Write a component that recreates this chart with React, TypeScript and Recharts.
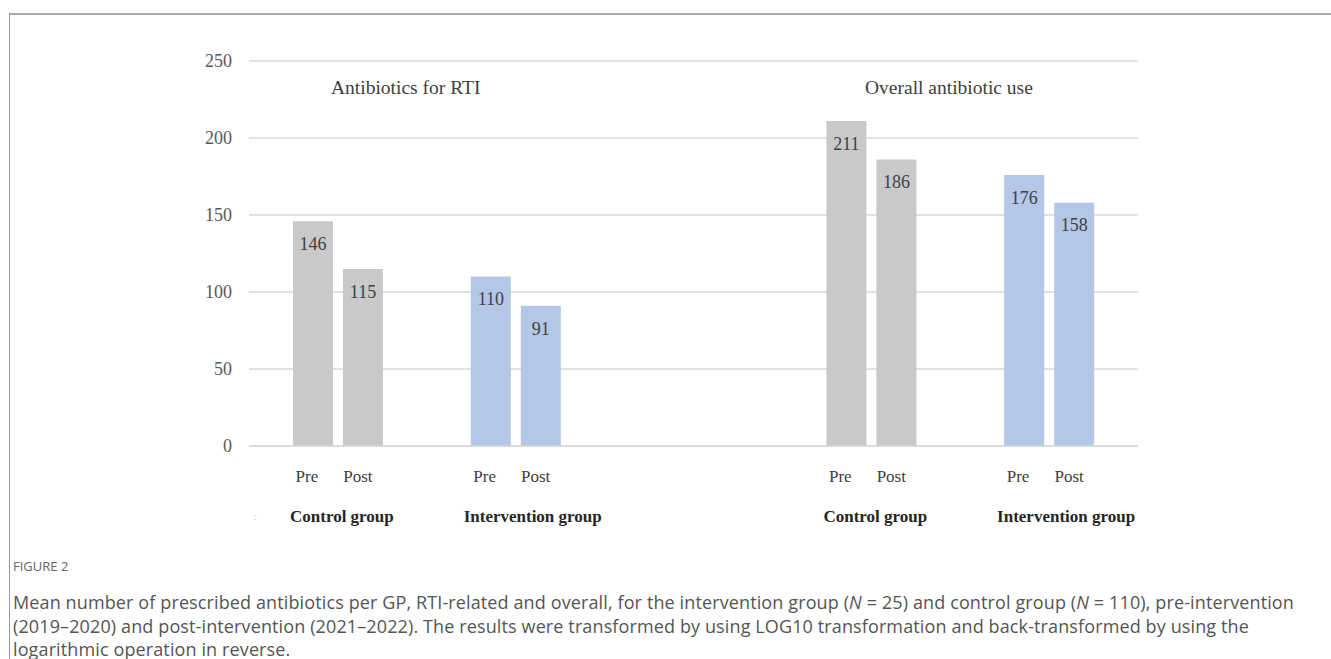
import React from 'react';
import { BarChart, Bar, XAxis, YAxis, CartesianGrid, Cell, LabelList } from 'recharts';

// Category slots: two RTI groups, a spacer, two overall groups
const categoryKeys = ['rtiControl', 'rtiIntervention', 'spacer', 'allControl', 'allIntervention'];
const groupNames = ['Control group', 'Intervention group', '', 'Control group', 'Intervention group'];
const groupKinds = ['control', 'intervention', '', 'control', 'intervention'];
const preValues: (number | null)[] = [146, 110, null, 211, 176];
const postValues: (number | null)[] = [115, 91, null, 186, 158];
const yTicks = [0, 50, 100, 150, 200, 250];
const phaseLabels = ['Pre', 'Post'];
const panelTitles = ['Antibiotics for RTI', 'Overall antibiotic use'];

const captionHead = 'FIGURE 2';

const data = categoryKeys.map((key, i) => ({
  key,
  pre: preValues[i],
  post: postValues[i],
}));

const COLORS: Record<string, string> = {
  control: '#c9c9c9',
  intervention: '#b4c7e7',
};
const SERIF = '"Liberation Serif", "Times New Roman", serif';
const SANS = '"Open Sans", "Noto Sans", sans-serif';
const GRID = '#d9d9d9';

// horizontal nudge of the bold group captions
const groupDx: Record<string, number> = { control: 4, intervention: 17 };

const GroupTick = (props: any) => {
  const { x, y, payload } = props;
  const idx = props.index ?? payload?.index ?? 0;
  const name = groupNames[idx];
  if (!name) return null;
  const kind = groupKinds[idx];
  return (
    <g>
      <text x={x - 31} y={y + 35.5} textAnchor="middle" fontFamily={SERIF} fontSize={17} fill="#404040">
        {phaseLabels[0]}
      </text>
      <text x={x + 20} y={y + 35.5} textAnchor="middle" fontFamily={SERIF} fontSize={17} fill="#404040">
        {phaseLabels[1]}
      </text>
      <text
        x={x + groupDx[kind]}
        y={y + 76}
        textAnchor="middle"
        fontFamily={SERIF}
        fontSize={17}
        fontWeight="bold"
        fill="#262626"
      >
        {name}
      </text>
    </g>
  );
};

const ValueLabel = (props: any) => {
  const { x, y, width, value } = props;
  if (value === null || value === undefined) return null;
  return (
    <text
      x={x + width / 2}
      y={y + 28.7}
      textAnchor="middle"
      fontFamily={SERIF}
      fontSize={18}
      fill="#404040"
    >
      {value}
    </text>
  );
};

export default function App() {
  return (
    <div
      style={{
        position: 'fixed',
        left: 0,
        top: 0,
        width: 1331,
        height: 659,
        background: '#ffffff',
        overflow: 'hidden',
      }}
    >
      {/* figure frame */}
      <div
        style={{
          position: 'absolute',
          left: 9,
          top: 13,
          width: 1400,
          height: 700,
          borderTop: '2px solid #a8a8a8',
          borderLeft: '1px solid #9a9a9a',
        }}
      />
      <div style={{ position: 'absolute', left: 0, top: 0 }}>
        <BarChart
          width={1331}
          height={540}
          data={data}
          margin={{ top: 61, right: 193, bottom: 4, left: 189 }}
          barSize={40}
          barGap={10}
        >
          <CartesianGrid vertical={false} stroke={GRID} strokeWidth={1.5} />
          <XAxis
            dataKey="key"
            height={90}
            axisLine={{ stroke: GRID, strokeWidth: 1.5 }}
            tickLine={false}
            tickSize={0}
            tickMargin={0}
            interval={0}
            tick={<GroupTick />}
          />
          <YAxis
            width={60}
            domain={[0, 250]}
            ticks={yTicks}
            axisLine={false}
            tickLine={false}
            tickSize={0}
            tickMargin={17}
            tick={{ fontFamily: SERIF, fontSize: 18, fill: '#595959' }}
          />
          <Bar dataKey="pre" isAnimationActive={false}>
            {data.map((d, i) => (
              <Cell key={d.key} fill={COLORS[groupKinds[i]] || '#ffffff'} />
            ))}
            <LabelList dataKey="pre" content={<ValueLabel />} />
          </Bar>
          <Bar dataKey="post" isAnimationActive={false}>
            {data.map((d, i) => (
              <Cell key={d.key} fill={COLORS[groupKinds[i]] || '#ffffff'} />
            ))}
            <LabelList dataKey="post" content={<ValueLabel />} />
          </Bar>
        </BarChart>
      </div>
      {/* panel titles and stray mark */}
      <svg
        width={1331}
        height={540}
        style={{ position: 'absolute', left: 0, top: 0, pointerEvents: 'none' }}
      >
        <text x={331} y={94} fontFamily={SERIF} fontSize={19.5} fill="#404040">
          {panelTitles[0]}
        </text>
        <text x={865} y={94} fontFamily={SERIF} fontSize={19.5} fill="#404040">
          {panelTitles[1]}
        </text>
        <text x={254} y={520} fontFamily={SERIF} fontSize={10} fill="#c8c8c8">
          :
        </text>
      </svg>
      {/* caption */}
      <div
        style={{
          position: 'absolute',
          left: 13,
          top: 557,
          fontFamily: SANS,
          fontSize: 13,
          color: '#666666',
          whiteSpace: 'nowrap',
        }}
      >
        {captionHead}
      </div>
      <div
        style={{
          position: 'absolute',
          left: 13,
          top: 591,
          fontFamily: SANS,
          fontSize: 18,
          letterSpacing: 0.12,
          lineHeight: '23.5px',
          color: '#555555',
          whiteSpace: 'nowrap',
        }}
      >
        <div>
          Mean number of prescribed antibiotics per GP, RTI-related and overall, for the intervention group (
          <i>N</i> = 25) and control group (<i>N</i> = 110), pre-intervention
        </div>
        <div>
          (2019–2020) and post-intervention (2021–2022). The results were transformed by using LOG10 transformation
          and back-transformed by using the
        </div>
        <div>logarithmic operation in reverse.</div>
      </div>
    </div>
  );
}
